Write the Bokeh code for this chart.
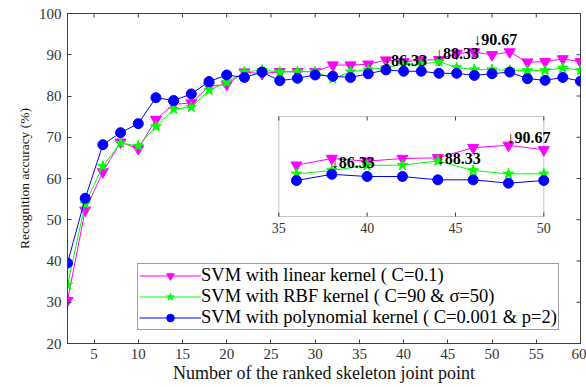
import numpy as np
from bokeh.plotting import figure
from bokeh.models import Range1d, FixedTicker, Legend, LegendItem, BoxAnnotation
from bokeh.core.properties import value
from bokeh.embed import file_html
from bokeh.resources import INLINE

# ---------------- data ----------------
joints = [2, 4, 6, 8, 10, 12, 14, 16, 18, 20, 22, 24, 26, 28, 30,
          32, 34, 36, 38, 40, 42, 44, 46, 48, 50, 52, 54, 56, 58, 60]
acc_linear = [30.4, 52.3, 61.6, 68.8, 67.2, 74.3, 78.0, 78.3, 82.4, 82.8,
              85.8, 85.4, 85.9, 85.9, 85.9, 87.5, 87.5, 87.7, 88.7, 88.3,
              88.7, 88.8, 90.33, 90.67, 90.0, 90.67, 88.2, 88.3, 89.0, 88.3]
acc_rbf = [34.2, 53.9, 63.0, 68.6, 67.9, 72.6, 76.8, 77.3, 81.4, 83.3,
           85.8, 86.3, 85.8, 85.9, 85.9, 84.2, 85.9, 86.4, 86.9, 87.67,
           87.7, 88.33, 86.9, 86.4, 86.4, 86.2, 86.2, 86.2, 86.8, 86.2]
acc_poly = [39.5, 55.2, 68.2, 71.1, 73.3, 79.6, 78.9, 80.5, 83.5, 85.1,
            84.5, 85.8, 83.7, 84.3, 85.1, 84.8, 84.5, 85.4, 86.33, 86.0,
            86.0, 85.5, 85.5, 85.0, 85.4, 85.8, 84.2, 83.8, 84.5, 83.6]
series_labels = ["SVM with linear kernel ( C=0.1)",
                 "SVM with RBF kernel ( C=90 & \u03c3=50)",
                 "SVM with polynomial kernel ( C=0.001 & p=2)"]
x_ticks = [5, 10, 15, 20, 25, 30, 35, 40, 45, 50, 55, 60]
y_ticks = [20, 30, 40, 50, 60, 70, 80, 90, 100]
inset_x_ticks = [35, 40, 45, 50]
annot_x = [38, 44, 48]
annot_y = [86.33, 88.33, 90.67]
annot_text = ["\u219386.33", "\u219388.33", "\u219390.67"]

# ---------------- styles ----------------
SERIF = "Liberation Serif"
AX = "#404040"
colors = ["#FF00FF", "#00FF00", "#0000FF"]
markers = ["inverted_triangle", "star", "circle"]
msizes = [11, 11, 10]

W, H = 586, 387
ML, MR, MT, MB = 67, 6, 13, 44
FW, FH = W - ML - MR, H - MT - MB

xr = Range1d(2, 60)
yr = Range1d(20, 100)
p = figure(width=W, height=H, x_range=xr, y_range=yr,
           output_backend="svg", toolbar_location=None,
           min_border_left=ML, min_border_right=MR, min_border_top=MT,
           min_border_bottom=MB)
p.grid.visible = False
p.outline_line_color = AX
p.outline_line_width = 1
p.background_fill_color = "white"
p.border_fill_color = "white"

for ax in (p.xaxis[0], p.yaxis[0]):
    ax.major_tick_in = 4
    ax.major_tick_out = 0
    ax.minor_tick_line_color = None
    ax.axis_line_color = AX
    ax.major_tick_line_color = AX
    ax.major_label_text_font = SERIF
    ax.major_label_text_font_size = "15px"
    ax.major_label_text_color = "#333333"
    ax.axis_label_text_font = SERIF
    ax.axis_label_text_font_style = "normal"
    ax.axis_label_text_color = "#111111"
p.xaxis[0].ticker = FixedTicker(ticks=x_ticks)
p.yaxis[0].ticker = FixedTicker(ticks=y_ticks)
p.xaxis[0].axis_label = "Number of the ranked skeleton joint point"
p.xaxis[0].axis_label_text_font_size = "18px"
p.xaxis[0].major_label_standoff = 5
p.xaxis[0].axis_label_standoff = 1
p.yaxis[0].axis_label = "Recognition accuracy (%)"
p.yaxis[0].axis_label_text_font_size = "13.5px"
p.yaxis[0].major_label_standoff = 6
p.yaxis[0].axis_label_standoff = 4

# inward ticks on the top and right edges of the frame
xt = np.array(x_ticks, dtype=float)
yt = np.array(y_ticks, dtype=float)
p.ray(xt, np.full(len(xt), yr.end), length=4, length_units="screen",
      angle=-np.pi / 2, line_color=AX, line_width=1)
p.ray(np.full(len(yt), xr.end), yt, length=4, length_units="screen",
      angle=np.pi, line_color=AX, line_width=1)

# ---------------- main series ----------------
series = [acc_linear, acc_rbf, acc_poly]
items = []
for vals, c, m, s, lab in zip(series, colors, markers, msizes, series_labels):
    lr = p.line(joints, vals, line_color=c, line_width=1)
    sr = p.scatter(joints, vals, marker=m, size=s, fill_color=c, line_color=c)
    items.append(LegendItem(label=lab, renderers=[lr, sr]))

p.text(annot_x, annot_y, text=annot_text, text_font=value(SERIF),
       text_font_style="bold", text_font_size="16px", text_color="black",
       text_baseline="alphabetic", text_align="left",
       x_offset=[-3, -4, -1], y_offset=[-9, -8, -12])

# ---------------- inset (same figure, its own scales) ----------------
ix0, ix1, iy0, iy1 = 35, 50, 80, 95
box_l, box_r, box_t, box_b = 211.3, 476.3, 103.0, 203.0   # px inside the frame
sx = (box_r - box_l) / (ix1 - ix0)
sy = (box_b - box_t) / (iy1 - iy0)
p.extra_x_ranges = {"ix": Range1d(ix0 - box_l / sx, ix1 + (FW - box_r) / sx)}
p.extra_y_ranges = {"iy": Range1d(iy0 - (FH - box_b) / sy, iy1 + box_t / sy)}

p.add_layout(BoxAnnotation(left=ix0, right=ix1, bottom=iy0, top=iy1,
                           x_range_name="ix", y_range_name="iy",
                           fill_color="white", fill_alpha=1.0,
                           line_color=AX, line_width=1, level="underlay"))

tx = np.array(inset_x_ticks, dtype=float)
p.ray(tx, np.full(len(tx), iy0), length=4, length_units="screen", angle=np.pi / 2,
      line_color=AX, line_width=1, x_range_name="ix", y_range_name="iy")
p.ray(tx, np.full(len(tx), iy1), length=4, length_units="screen", angle=-np.pi / 2,
      line_color=AX, line_width=1, x_range_name="ix", y_range_name="iy")
p.text(tx, np.full(len(tx), iy0), text=[str(t) for t in inset_x_ticks],
       text_font=value(SERIF), text_font_size="14px", text_color="#333333",
       text_align="center", text_baseline="top", y_offset=6,
       x_range_name="ix", y_range_name="iy")

jx = np.array(joints)
mask = (jx >= ix0) & (jx <= ix1)
for vals, c, m, s in zip(series, colors, markers, msizes):
    v = np.array(vals)[mask]
    p.line(jx[mask], v, line_color=c, line_width=1, x_range_name="ix", y_range_name="iy")
    p.scatter(jx[mask], v, marker=m, size=s, fill_color=c, line_color=c,
              x_range_name="ix", y_range_name="iy")

p.text(annot_x, annot_y, text=annot_text, text_font=value(SERIF),
       text_font_style="bold", text_font_size="16px", text_color="black",
       text_baseline="alphabetic", text_align="left",
       x_offset=[-1, -1, -2], y_offset=[-12, -2, -8],
       x_range_name="ix", y_range_name="iy")

# ---------------- legend ----------------
legend = Legend(items=items, location=(70, 13), orientation="vertical",
                label_text_font=SERIF, label_text_font_size="18.5px",
                label_text_color="black", border_line_color=AX,
                border_line_width=1, background_fill_color="white",
                background_fill_alpha=1.0, padding=1, spacing=-5, margin=0,
                glyph_width=62, glyph_height=19, label_height=19,
                label_standoff=0)
p.add_layout(legend)

open("out.html", "w").write(file_html(p, INLINE))
